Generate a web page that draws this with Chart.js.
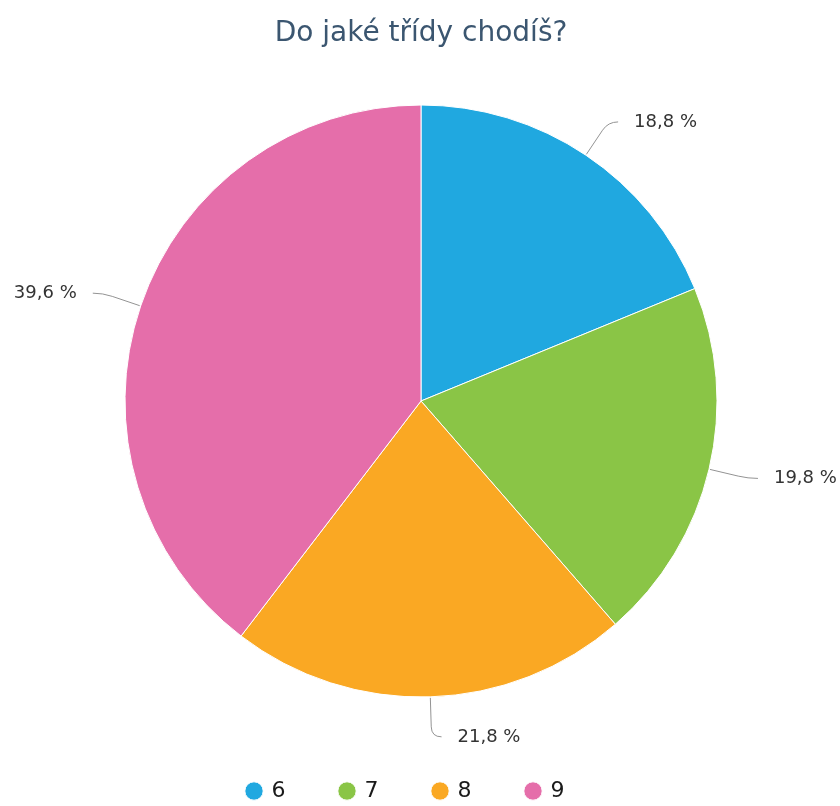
<!DOCTYPE html>
<html lang="cs">
<head>
<meta charset="utf-8">
<title>Do jaké třídy chodíš?</title>
<script src="https://cdn.jsdelivr.net/npm/chart.js@4/dist/chart.umd.min.js"></script>
<style>
  html, body { margin: 0; padding: 0; background: #fff; overflow: hidden; }
  #wrap { position: relative; width: 840px; height: 812px; }
</style>
</head>
<body>
<div id="wrap"><canvas id="gradeChart"></canvas></div>
<script>
// Which grade the respondents attend, share of answers in percent
const grades = ['6', '7', '8', '9'];
const shares = [18.8, 19.8, 21.8, 39.6];
const sliceColors = ['#20a8e0', '#8ac546', '#faa823', '#e56eaa'];
const chartTitle = 'Do jaké třídy chodíš?';

function formatShare(v) {
    return v.toFixed(1).replace('.', ',') + ' %';
}

// Labels outside the pie, joined to their slice by a bent connector
const outsideLabels = {
    id: 'outsideLabels',
    afterDatasetsDraw(chart) {
        const ctx = chart.ctx;
        const meta = chart.getDatasetMeta(0);
        ctx.save();
        ctx.font = '18px "DejaVu Sans"';
        ctx.textBaseline = 'middle';
        meta.data.forEach((arc, i) => {
            const {x, y, startAngle, endAngle, outerRadius} =
                arc.getProps(['x', 'y', 'startAngle', 'endAngle', 'outerRadius'], true);
            const mid = (startAngle + endAngle) / 2;
            const cos = Math.cos(mid), sin = Math.sin(mid);
            const dir = cos >= 0 ? 1 : -1;
            const r0 = outerRadius + 1, r1 = outerRadius + 30, r2 = outerRadius + 40;
            const ex = x + cos * r2, ey = y + sin * r2;
            const endX = ex + dir * 10;
            ctx.beginPath();
            ctx.moveTo(x + cos * r0, y + sin * r0);
            ctx.lineTo(x + cos * r1, y + sin * r1);
            ctx.quadraticCurveTo(ex, ey, endX, ey);
            ctx.strokeStyle = '#939393';
            ctx.lineWidth = 1;
            ctx.stroke();
            ctx.fillStyle = '#333';
            ctx.textAlign = dir > 0 ? 'left' : 'right';
            ctx.fillText(formatShare(shares[i]), endX + dir * 16, ey);
        });
        ctx.restore();
    }
};

// legend row sits a bit left of the pie centre
const legendOffset = {
    id: 'legendOffset',
    afterLayout(chart) {
        chart.legend.right -= 30;
    }
};

new Chart(document.getElementById('gradeChart'), {
    type: 'pie',
    data: {
        labels: grades,
        datasets: [{
            data: shares,
            backgroundColor: sliceColors,
            borderColor: '#fff',
            borderWidth: 1,
            radius: 296
        }]
    },
    options: {
        responsive: true,
        maintainAspectRatio: false,
        animation: false,
        layout: { padding: { left: 2, right: 0, top: 0, bottom: 0 } },
        plugins: {
            title: {
                display: true,
                text: chartTitle,
                color: '#3b5670',
                font: { family: 'DejaVu Sans', size: 28, weight: 'normal' },
                padding: { top: 17, bottom: 26.4 }
            },
            legend: {
                position: 'bottom',
                labels: {
                    usePointStyle: true,
                    pointStyle: 'circle',
                    boxWidth: 13,
                    boxHeight: 13,
                    padding: 55,
                    color: '#1a1a1a',
                    font: { family: 'DejaVu Sans', size: 22 }
                }
            },
            tooltip: { enabled: false }
        }
    },
    plugins: [outsideLabels, legendOffset]
});
</script>
</body>
</html>
